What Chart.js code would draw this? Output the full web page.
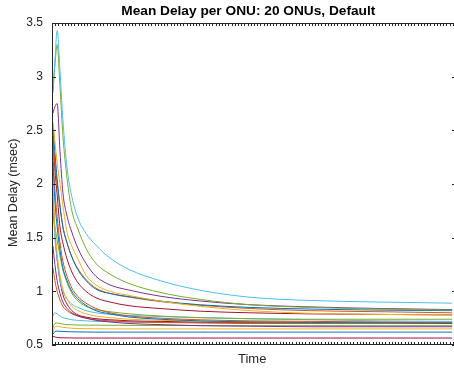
<!DOCTYPE html>
<html>
<head>
<meta charset="utf-8">
<script src="https://cdn.jsdelivr.net/npm/chart.js@4/dist/chart.umd.min.js"></script>
<style>
html,body{margin:0;padding:0;background:#fff;overflow:hidden;}
#wrap{width:456px;height:372px;position:relative;}
</style>
</head>
<body>
<div id="wrap"><canvas id="c"></canvas></div>
<script>
// time stamps (arbitrary units, no tick labels shown)
const timeStamps = [0.3, 0.9, 1.6, 2.5, 3.4, 4.7, 6.2, 8.1, 10.6, 13.7, 18.1, 24.3, 33.7, 46.2, 61.8, 80.5, 102.3, 124.8];

// mean delay per ONU (msec)
const onu1  = [2.88, 3.15, 3.43, 3.05, 2.60, 2.15, 1.88, 1.68, 1.54, 1.43, 1.31, 1.20, 1.10, 1.01, 0.945, 0.915, 0.90, 0.89];
const onu2  = [2.85, 3.10, 3.30, 2.90, 2.45, 2.05, 1.75, 1.58, 1.40, 1.26, 1.16, 1.07, 0.99, 0.925, 0.875, 0.85, 0.835, 0.825];
const onu3  = [2.66, 2.72, 2.75, 2.30, 1.92, 1.70, 1.55, 1.40, 1.26, 1.14, 1.06, 1.01, 0.955, 0.91, 0.875, 0.855, 0.84, 0.83];
const onu4  = [2.58, 2.40, 2.20, 2.00, 1.80, 1.55, 1.42, 1.30, 1.15, 1.06, 1.00, 0.96, 0.91, 0.86, 0.82, 0.795, 0.785, 0.78];
const onu5  = [2.55, 2.30, 2.05, 1.80, 1.60, 1.45, 1.32, 1.20, 1.10, 1.02, 0.98, 0.95, 0.91, 0.875, 0.85, 0.835, 0.825, 0.82];
const onu6  = [2.40, 2.20, 2.00, 1.78, 1.60, 1.45, 1.32, 1.21, 1.11, 1.03, 0.98, 0.945, 0.905, 0.87, 0.84, 0.82, 0.81, 0.80];
const onu7  = [2.45, 2.15, 1.90, 1.60, 1.45, 1.30, 1.18, 1.08, 1.00, 0.94, 0.90, 0.865, 0.84, 0.815, 0.80, 0.79, 0.785, 0.78];
const onu8  = [2.20, 1.85, 1.60, 1.38, 1.22, 1.10, 1.00, 0.93, 0.87, 0.82, 0.79, 0.76, 0.74, 0.725, 0.715, 0.71, 0.705, 0.70];
const onu9  = [2.30, 1.95, 1.70, 1.45, 1.28, 1.14, 1.03, 0.95, 0.89, 0.84, 0.80, 0.77, 0.75, 0.735, 0.725, 0.72, 0.715, 0.71];
const onu10 = [2.00, 1.60, 1.35, 1.15, 1.02, 0.93, 0.86, 0.82, 0.79, 0.77, 0.755, 0.74, 0.73, 0.72, 0.715, 0.71, 0.705, 0.70];
const onu11 = [1.42, 1.25, 1.10, 0.98, 0.90, 0.84, 0.80, 0.77, 0.75, 0.73, 0.715, 0.70, 0.69, 0.68, 0.675, 0.67, 0.67, 0.67];
const onu12 = [1.73, 1.60, 1.48, 1.33, 1.20, 1.08, 0.98, 0.91, 0.86, 0.83, 0.81, 0.79, 0.77, 0.755, 0.745, 0.74, 0.74, 0.74];
const onu13 = [1.85, 1.50, 1.30, 1.10, 1.00, 0.93, 0.88, 0.85, 0.82, 0.80, 0.785, 0.775, 0.765, 0.755, 0.745, 0.735, 0.725, 0.72];
const onu14 = [1.90, 1.55, 1.30, 1.10, 0.97, 0.88, 0.82, 0.78, 0.76, 0.745, 0.735, 0.725, 0.72, 0.715, 0.71, 0.71, 0.71, 0.71];
const onu15 = [0.60, 0.625, 0.63, 0.628, 0.626, 0.624, 0.623, 0.622, 0.621, 0.62, 0.62, 0.62, 0.62, 0.62, 0.62, 0.62, 0.62, 0.62];
const onu16 = [1.22, 1.10, 1.00, 0.92, 0.86, 0.82, 0.79, 0.77, 0.75, 0.735, 0.725, 0.715, 0.71, 0.705, 0.70, 0.70, 0.70, 0.70];
const onu17 = [0.62, 0.67, 0.675, 0.67, 0.665, 0.66, 0.656, 0.654, 0.652, 0.651, 0.65, 0.65, 0.65, 0.65, 0.65, 0.65, 0.65, 0.65];
const onu18 = [0.58, 0.575, 0.57, 0.568, 0.567, 0.566, 0.566, 0.565, 0.565, 0.565, 0.565, 0.565, 0.565, 0.565, 0.565, 0.565, 0.565, 0.565];
const onu19 = [0.66, 0.70, 0.705, 0.70, 0.695, 0.69, 0.688, 0.686, 0.685, 0.685, 0.684, 0.683, 0.682, 0.681, 0.68, 0.68, 0.68, 0.68];
const onu20 = [0.77, 0.80, 0.79, 0.77, 0.755, 0.745, 0.735, 0.73, 0.725, 0.72, 0.717, 0.714, 0.712, 0.71, 0.708, 0.706, 0.705, 0.705];

const yTickValues = [0.5, 1, 1.5, 2, 2.5, 3, 3.5];

const series = [onu1, onu2, onu3, onu4, onu5, onu6, onu7, onu8, onu9, onu10,
                onu11, onu12, onu13, onu14, onu15, onu16, onu17, onu18, onu19, onu20];
const palette = ['#4DBEEE', '#77AC30', '#7E2F8E', '#EDB120', '#0072BD', '#D95319', '#A2142F',
                 '#0072BD', '#D95319', '#EDB120', '#7E2F8E', '#77AC30', '#4DBEEE', '#A2142F',
                 '#0072BD', '#D95319', '#EDB120', '#A2142F', '#77AC30', '#4DBEEE'];

const datasets = series.map((vals, i) => ({
  label: 'ONU ' + (i + 1),
  data: vals.map((v, j) => ({x: timeStamps[j], y: v})),
  borderColor: palette[i],
  borderWidth: 1,
  pointRadius: 0,
  fill: false,
  cubicInterpolationMode: 'monotone'
}));

const AX = '#262626';
const FONT = '"Liberation Sans", Arial, Helvetica, sans-serif';

const boxTicks = {
  id: 'boxTicks',
  afterDatasetsDraw(chart) {
    const {ctx, chartArea: a, scales: {x, y}} = chart;
    ctx.save();
    ctx.strokeStyle = AX;
    ctx.lineWidth = 1;
    ctx.beginPath();
    ctx.rect(Math.round(a.left) + 0.5, Math.round(a.top) + 0.5,
             Math.round(a.right - a.left) - 1, Math.round(a.bottom - a.top) - 1);
    for (const t of y.ticks) {
      const py = Math.round(y.getPixelForValue(t.value)) + 0.5;
      ctx.moveTo(a.left, py); ctx.lineTo(a.left + 4, py);
      ctx.moveTo(a.right, py); ctx.lineTo(a.right - 4, py);
    }
    for (const t of x.ticks) {
      const px = Math.round(x.getPixelForValue(t.value)) + 0.5;
      ctx.moveTo(px, a.bottom); ctx.lineTo(px, a.bottom - 3);
      ctx.moveTo(px, a.top); ctx.lineTo(px, a.top + 3);
    }
    ctx.stroke();
    ctx.restore();
  }
};

new Chart(document.getElementById('c'), {
  type: 'line',
  data: {datasets},
  options: {
    responsive: true,
    maintainAspectRatio: false,
    animation: false,
    layout: {padding: 0},
    plugins: {
      legend: {display: false},
      tooltip: {enabled: false},
      title: {
        display: true,
        fullSize: false,
        text: 'Mean Delay per ONU: 20 ONUs, Default   ',
        color: '#000',
        font: {family: FONT, size: 13.7, weight: 'bold'},
        padding: {top: 3.5, bottom: 3.1}
      }
    },
    scales: {
      x: {
        type: 'linear',
        min: 0,
        max: 126,
        border: {display: false},
        grid: {display: false, drawTicks: false},
        ticks: {display: false, stepSize: 1, maxTicksLimit: 500, autoSkip: false},
        title: {display: true, text: 'Time ', color: AX, font: {family: FONT, size: 13}, padding: {top: 0, bottom: 4.5}},
        afterFit(s) { s.height = 27; }
      },
      y: {
        min: 0.5,
        max: 3.5,
        border: {display: false},
        grid: {display: false, drawTicks: false},
        afterBuildTicks(s) { s.ticks = yTickValues.map(v => ({value: v})); },
        ticks: {color: AX, font: {family: FONT, size: 12}, padding: 9, callback: v => String(v)},
        title: {display: true, text: 'Mean Delay (msec)     ', color: AX, font: {family: FONT, size: 12.5}, padding: {top: 6.5, bottom: 0}},
        afterFit(s) { s.width = 52; }
      }
    }
  },
  plugins: [boxTicks]
});
</script>
</body>
</html>
